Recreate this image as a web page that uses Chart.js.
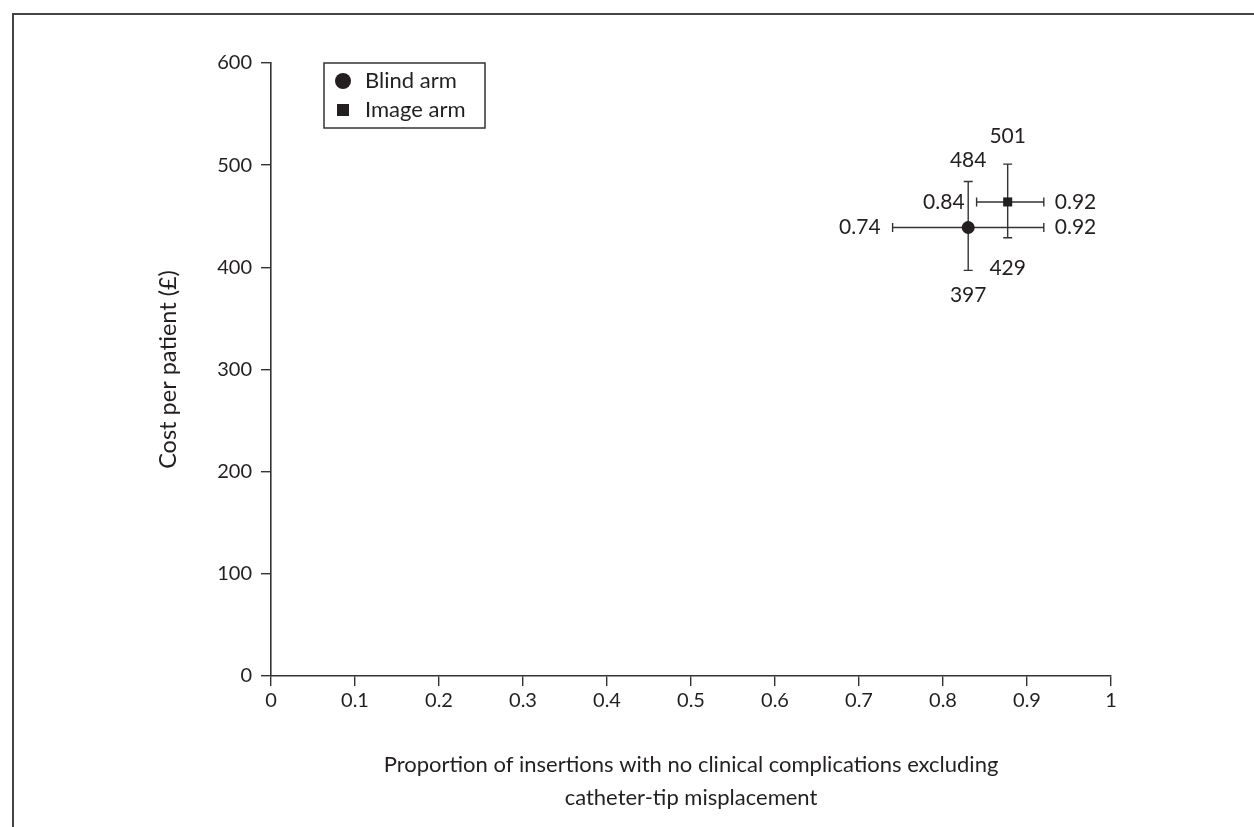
<!DOCTYPE html>
<html>
<head>
<meta charset="utf-8">
<script src="https://cdn.jsdelivr.net/npm/chart.js@4.4.0/dist/chart.umd.min.js"></script>
<style>
  html, body { margin: 0; padding: 0; background: #fff; }
  #wrap { position: relative; width: 1254px; height: 827px; overflow: hidden; }
  #frame { position: absolute; left: 12px; top: 13px; width: 1400px; height: 1000px;
           border-top: 2px solid #444; border-left: 2px solid #444; }
  canvas { position: absolute; left: 0; top: 0; }
</style>
</head>
<body>
<div id="wrap">
  <div id="frame"></div>
  <canvas id="costChart" width="1254" height="827"></canvas>
</div>
<script>
// arms and their estimates (point, lower, upper)
const arms = ['Blind arm', 'Image arm'];
const armStyles = ['circle', 'rect'];
const proportion = [0.83, 0.877];
const proportionLow = [0.74, 0.84];
const proportionHigh = [0.92, 0.92];
const cost = [439, 464];
const costLow = [397, 429];
const costHigh = [484, 501];

const ink = '#231f20';
const fontFamily = 'Lato, "Open Sans", sans-serif';

// how far the cost labels sit from the bar ends
const topLabelGap = [21, 28];
const bottomLabelGap = [25, 31];

const errorBars = {
    id: 'errorBars',
    beforeDatasetsDraw(chart) {
        const ctx = chart.ctx;
        const xs = chart.scales.x, ys = chart.scales.y;
        const cap = 4.5;
        ctx.save();
        ctx.strokeStyle = '#333';
        ctx.lineWidth = 1.4;
        arms.forEach((a, i) => {
            const px = xs.getPixelForValue(proportion[i]);
            const py = ys.getPixelForValue(cost[i]);
            const x1 = xs.getPixelForValue(proportionLow[i]);
            const x2 = xs.getPixelForValue(proportionHigh[i]);
            const y1 = ys.getPixelForValue(costLow[i]);
            const y2 = ys.getPixelForValue(costHigh[i]);
            ctx.beginPath();
            ctx.moveTo(x1, py); ctx.lineTo(x2, py);
            ctx.moveTo(x1, py - cap); ctx.lineTo(x1, py + cap);
            ctx.moveTo(x2, py - cap); ctx.lineTo(x2, py + cap);
            ctx.moveTo(px, y1); ctx.lineTo(px, y2);
            ctx.moveTo(px - cap, y1); ctx.lineTo(px + cap, y1);
            ctx.moveTo(px - cap, y2); ctx.lineTo(px + cap, y2);
            ctx.stroke();
        });
        ctx.restore();
    },
    afterDatasetsDraw(chart) {
        const ctx = chart.ctx;
        const xs = chart.scales.x, ys = chart.scales.y;
        ctx.save();
        ctx.fillStyle = ink;
        ctx.font = '21px ' + fontFamily;
        ctx.textBaseline = 'middle';
        arms.forEach((a, i) => {
            const px = xs.getPixelForValue(proportion[i]);
            const py = ys.getPixelForValue(cost[i]);
            const x1 = xs.getPixelForValue(proportionLow[i]);
            const x2 = xs.getPixelForValue(proportionHigh[i]);
            const y1 = ys.getPixelForValue(costLow[i]);
            const y2 = ys.getPixelForValue(costHigh[i]);
            ctx.textAlign = 'right';
            ctx.fillText(proportionLow[i].toFixed(2), x1 - 12, py);
            ctx.textAlign = 'left';
            ctx.fillText(proportionHigh[i].toFixed(2), x2 + 11, py);
            ctx.textAlign = 'center';
            ctx.fillText(String(costHigh[i]), px, y2 - topLabelGap[i]);
            ctx.fillText(String(costLow[i]), px, y1 + bottomLabelGap[i]);
        });
        ctx.restore();
    },
    afterDraw(chart) {
        // boxed legend in the top-left of the plot
        const ctx = chart.ctx;
        const area = chart.chartArea;
        const bx = area.left + 53, by = area.top, bw = 161, bh = 65;
        ctx.save();
        ctx.strokeStyle = '#333';
        ctx.lineWidth = 1.5;
        ctx.strokeRect(bx, by, bw, bh);
        ctx.fillStyle = ink;
        ctx.font = '22px ' + fontFamily;
        ctx.textAlign = 'left';
        ctx.textBaseline = 'middle';
        arms.forEach((a, i) => {
            const cy = by + 18 + i * 29;
            const cx = bx + 19;
            if (armStyles[i] === 'circle') {
                ctx.beginPath();
                ctx.arc(cx, cy, 8, 0, Math.PI * 2);
                ctx.fill();
            } else {
                ctx.fillRect(cx - 6, cy - 6, 12, 12);
            }
            ctx.fillText(a, bx + 41, cy);
        });
        ctx.restore();
    }
};

const tickFormat = (v) => String(Math.round(v * 10) / 10);

new Chart(document.getElementById('costChart'), {
    type: 'scatter',
    data: {
        datasets: arms.map((a, i) => ({
            label: a,
            data: [{ x: proportion[i], y: cost[i] }],
            pointStyle: armStyles[i],
            pointRadius: armStyles[i] === 'circle' ? 6.5 : 6.4,
            backgroundColor: ink,
            borderColor: ink,
            borderWidth: 0
        }))
    },
    options: {
        responsive: false,
        animation: false,
        layout: { padding: { top: 63, right: 143, left: 140, bottom: 0 } },
        plugins: {
            legend: { display: false },
            tooltip: { enabled: false }
        },
        scales: {
            x: {
                type: 'linear',
                min: 0,
                max: 1,
                afterFit: (scale) => { scale.height = 151; },
                ticks: { stepSize: 0.1, callback: tickFormat, color: ink, padding: 3, font: { family: fontFamily, size: 20 } },
                grid: { drawOnChartArea: false, drawTicks: true, tickLength: 10, color: '#333', lineWidth: 1.4 },
                border: { display: true, color: '#333', width: 1.6 },
                title: {
                    display: true,
                    text: ['Proportion of insertions with no clinical complications excluding', 'catheter-tip misplacement'],
                    color: ink,
                    font: { family: fontFamily, size: 22, lineHeight: 1.5 },
                    padding: { top: 0, bottom: 12.5 }
                }
            },
            y: {
                type: 'linear',
                min: 0,
                max: 600,
                afterFit: (scale) => { scale.width = 131; },
                ticks: { stepSize: 100, callback: tickFormat, color: ink, padding: 9, font: { family: fontFamily, size: 20 } },
                grid: { drawOnChartArea: false, drawTicks: true, tickLength: 10, color: '#333', lineWidth: 1.4 },
                border: { display: true, color: '#333', width: 1.6 },
                title: {
                    display: true,
                    text: 'Cost per patient (£)',
                    color: ink,
                    font: { family: fontFamily, size: 23.5 },
                    padding: { top: 14, bottom: 0 }
                }
            }
        }
    },
    plugins: [errorBars]
});
</script>
</body>
</html>
